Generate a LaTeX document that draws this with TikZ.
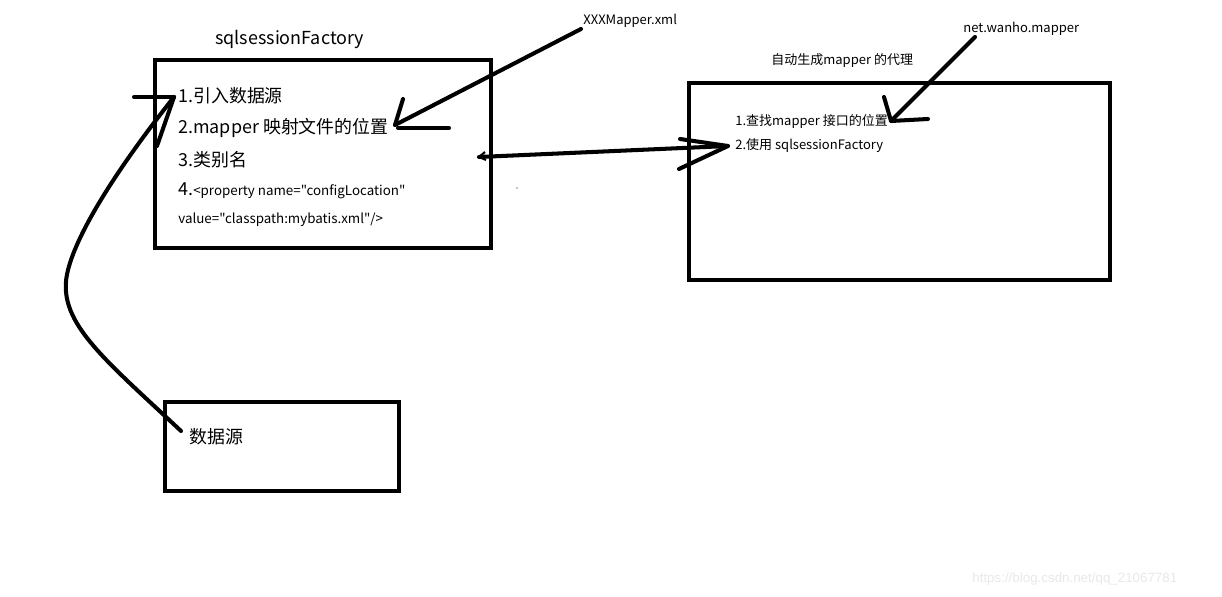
\documentclass[tikz,border=0pt]{standalone}
\usepackage{fontspec}
\setmainfont{Noto Sans CJK SC}
\newfontfamily\cjkf{Noto Sans CJK SC}
\newcommand{\bigf}{\cjkf\fontsize{10.2pt}{12pt}\selectfont}
\newcommand{\smallf}{\cjkf\fontsize{7.4pt}{9pt}\selectfont}
\newcommand{\midf}{\cjkf\fontsize{7.6pt}{9pt}\selectfont}
\begin{document}
\begin{tikzpicture}[x=0.02cm,y=-0.02cm,
  pen/.style={line width=2.3pt, line cap=round, line join=round},
  box/.style={draw, line width=2.3pt, inner sep=0pt},
  txt/.style={anchor=west, inner sep=0pt}]
\useasboundingbox (0,0) rectangle (1222,597);
% boxes
\node[box, minimum width=6.72cm, minimum height=3.76cm] (factory) at (323,154) {};
\node[box, minimum width=8.42cm, minimum height=3.94cm] (proxy) at (899.5,181.5) {};
\node[box, minimum width=4.68cm, minimum height=1.78cm] (ds) at (282,446.5) {};
% titles / labels
\node[txt] (ftitle) at (215,39) {\bigf sqlsessionFactory};
\node[txt] (xml) at (583,21) {\smallf XXXMapper.xml};
\node[txt] (pkg) at (963,29) {\smallf net.wanho.mapper};
\node[txt] (ptitle) at (771,61) {\smallf 自动生成mapper 的代理};
% box1 text
\node[txt] (l1) at (178,96) {\bigf 1.引入数据源};
\node[txt] (l2) at (178,128) {\bigf 2.mapper 映射文件的位置};
\node[txt] (l3) at (178,160) {\bigf 3.类别名};
\node[txt] (l4) at (178,191) {\bigf 4.\midf<property name="configLocation"};
\node[txt] (l5) at (178,220) {\midf value="classpath:mybatis.xml"/>};
% box2 text
\node[txt] (m1) at (735,121) {\smallf 1.查找mapper 接口的位置};
\node[txt] (m2) at (735,146) {\smallf 2.使用 sqlsessionFactory};
% box3 text
\node[txt] (dstxt) at (189,437) {\bigf 数据源};
% watermark
\node[txt, text=black!9] (wm) at (972,579) {\fontspec{Liberation Sans}\fontsize{7.6pt}{9pt}\selectfont https://blog.csdn.net/qq\_21067781};
% coordinates for hand-drawn arrows
\coordinate (xmlS) at (581,29);
\coordinate (xmlT) at (395,125);
\coordinate (pkgS) at (975,37);
\coordinate (pkgT) at (891,121);
\coordinate (dL) at (479,157);
\coordinate (dR) at (728,146);
\coordinate (dsS) at (181,431);
\coordinate (dsT) at (174,97);
% XXXMapper arrow
\draw[pen] (xmlS) -- (xmlT);
\draw[pen] (403,99) -- (xmlT);
\draw[pen] (398,128) -- (449,128);
% net.wanho.mapper arrow
\draw[pen] (pkgS) -- (pkgT);
\draw[pen] (884,97) -- (pkgT) -- (928,119);
% double arrow
\draw[pen] (dL) -- (dR);
\draw[pen] (680,139) -- (dR) -- (679,169);
\draw[line width=1.2pt] (485,152) -- (dL) -- (486,160);
% curve from data source
\draw[pen] (dsS) .. controls (100,355) and (55,320) .. (68,270)
  .. controls (78,230) and (120,165) .. (dsT);
\draw[pen] (157,146) -- (dsT);
\draw[pen] (134,97) -- (dsT);
% stray dot
\fill (517,188) circle (0.7);
\end{tikzpicture}
\end{document}
